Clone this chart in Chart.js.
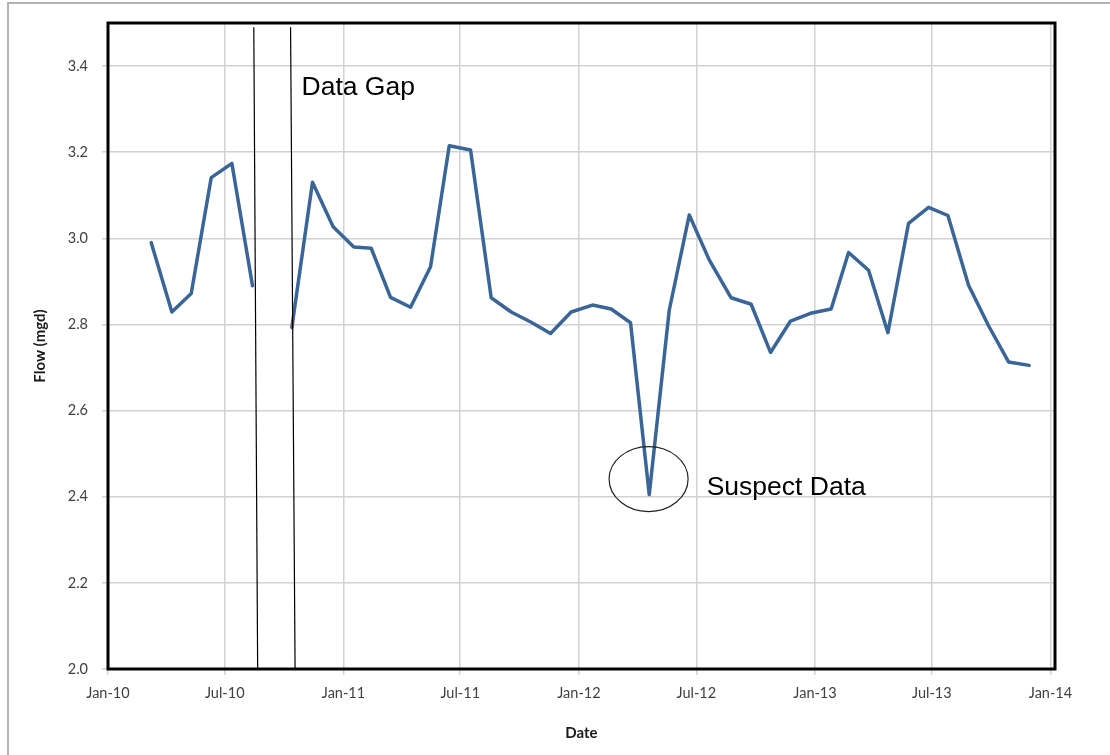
<!DOCTYPE html>
<html>
<head>
<meta charset="utf-8">
<script src="https://cdn.jsdelivr.net/npm/chart.js@4.4.1/dist/chart.umd.min.js"></script>
<style>
  html, body { margin: 0; padding: 0; background: #fff; }
  #wrap { width: 1110px; height: 755px; }
</style>
</head>
<body>
<div id="wrap"><canvas id="flowChart" width="1110" height="755"></canvas></div>
<script>
"use strict";

// monthly samples, null = missing month (data gap)
const sampleDates = [
  "2010-03-09", "2010-04-10", "2010-05-10", "2010-06-10", "2010-07-12", "2010-08-13",
  "2010-09-13", "2010-10-13", "2010-11-14", "2010-12-16",
  "2011-01-17", "2011-02-13", "2011-03-15", "2011-04-15", "2011-05-16", "2011-06-14",
  "2011-07-17", "2011-08-18", "2011-09-18", "2011-10-19", "2011-11-18", "2011-12-20",
  "2012-01-22", "2012-02-20", "2012-03-21", "2012-04-19", "2012-05-20", "2012-06-20",
  "2012-07-21", "2012-08-24", "2012-09-24", "2012-10-24", "2012-11-24", "2012-12-25",
  "2013-01-26", "2013-02-22", "2013-03-25", "2013-04-24", "2013-05-26", "2013-06-26",
  "2013-07-26", "2013-08-27", "2013-09-27", "2013-10-28", "2013-11-29"
];
const flowValues = [
  2.990, 2.829, 2.872, 3.141, 3.174, 2.890,
  null, 2.793, 3.130, 3.027,
  2.980, 2.977, 2.863, 2.840, 2.934, 3.215,
  3.205, 2.862, 2.829, 2.805, 2.779, 2.829,
  2.845, 2.836, 2.804, 2.405, 2.833, 3.054,
  2.950, 2.862, 2.847, 2.735, 2.808, 2.826,
  2.836, 2.967, 2.926, 2.781, 3.035, 3.072,
  3.053, 2.891, 2.797, 2.713, 2.705
];

const xTickDates = [
  "2010-01-01", "2010-07-01", "2011-01-01", "2011-07-01", "2012-01-01",
  "2012-07-01", "2013-01-01", "2013-07-01", "2014-01-01"
];
const xTickLabels = ["Jan-10", "Jul-10", "Jan-11", "Jul-11", "Jan-12", "Jul-12", "Jan-13", "Jul-13", "Jan-14"];
const xRange = ["2010-01-01", "2014-01-08"];
const yTickValues = [2.0, 2.2, 2.4, 2.6, 2.8, 3.0, 3.2, 3.4];
const yRange = [2.0, 3.5];

// annotations
const gapLineTopDates = ["2010-08-15", "2010-10-11"];
const gapLineBottomDates = ["2010-08-21", "2010-10-18"];
const gapLineTopFlow = 3.49;
const gapLabel = "Data Gap";
const gapLabelAt = ["2010-10-28", 3.333];
const suspectLabel = "Suspect Data";
const suspectLabelAt = ["2012-07-17", 2.405];
const suspectCircleAt = ["2012-04-18", 2.441];

const toTime = (s) => Date.parse(s + "T00:00:00Z");

const seriesPoints = sampleDates.map((d, i) => ({ x: toTime(d), y: flowValues[i] }));

const TICK_FONT = { family: "Lato, 'Open Sans', sans-serif", size: 14.5 };
const TITLE_FONT = { family: "Lato, 'Open Sans', sans-serif", size: 15, weight: "bold" };
const NOTE_FONT = "26.5px 'Liberation Sans', Arial, sans-serif";
const GRID_COLOR = "#d2d2d2";

const annotationPlugin = {
  id: "annotations",
  beforeDraw(chart) {
    const ctx = chart.ctx;
    ctx.save();
    ctx.strokeStyle = "#b4b4b4";
    ctx.lineWidth = 2;
    ctx.beginPath();
    ctx.moveTo(8, 760);
    ctx.lineTo(8, 3);
    ctx.lineTo(1115, 3);
    ctx.stroke();
    ctx.restore();
  },
  afterDatasetsDraw(chart) {
    const ctx = chart.ctx;
    const xs = chart.scales.x;
    const ys = chart.scales.y;
    ctx.save();

    // data gap markers
    ctx.strokeStyle = "#000";
    ctx.lineWidth = 1.2;
    for (let i = 0; i < gapLineTopDates.length; i++) {
      ctx.beginPath();
      ctx.moveTo(xs.getPixelForValue(toTime(gapLineTopDates[i])), ys.getPixelForValue(gapLineTopFlow));
      ctx.lineTo(xs.getPixelForValue(toTime(gapLineBottomDates[i])), ys.getPixelForValue(yRange[0]));
      ctx.stroke();
    }

    // suspect data circle
    ctx.lineWidth = 1.2;
    ctx.strokeStyle = "#222";
    ctx.beginPath();
    ctx.ellipse(
      xs.getPixelForValue(toTime(suspectCircleAt[0])),
      ys.getPixelForValue(suspectCircleAt[1]),
      39.5, 32.5, 0, 0, Math.PI * 2
    );
    ctx.stroke();

    ctx.fillStyle = "#000";
    ctx.font = NOTE_FONT;
    ctx.textAlign = "left";
    ctx.textBaseline = "alphabetic";
    ctx.fillText(gapLabel, xs.getPixelForValue(toTime(gapLabelAt[0])), ys.getPixelForValue(gapLabelAt[1]));
    ctx.fillText(suspectLabel, xs.getPixelForValue(toTime(suspectLabelAt[0])), ys.getPixelForValue(suspectLabelAt[1]));
    ctx.restore();
  },
  afterDraw(chart) {
    const { left, top, right, bottom } = chart.chartArea;
    const ctx = chart.ctx;
    ctx.save();
    ctx.strokeStyle = "#000";
    ctx.lineWidth = 3;
    ctx.strokeRect(left, top, right - left, bottom - top);
    ctx.restore();
  }
};

new Chart(document.getElementById("flowChart"), {
  type: "line",
  data: {
    datasets: [
      {
        label: "Flow",
        data: seriesPoints,
        borderColor: "#3a6597",
        borderWidth: 3.5,
        pointRadius: 0,
        tension: 0,
        spanGaps: false,
        borderJoinStyle: "round",
        borderCapStyle: "round"
      }
    ]
  },
  options: {
    responsive: false,
    animation: false,
    devicePixelRatio: 1,
    layout: { padding: { top: 23, right: 55, left: 0, bottom: 0 } },
    plugins: {
      legend: { display: false },
      tooltip: { enabled: false }
    },
    scales: {
      x: {
        type: "linear",
        min: toTime(xRange[0]),
        max: toTime(xRange[1]),
        afterBuildTicks: (scale) => {
          scale.ticks = xTickDates.map((d) => ({ value: toTime(d) }));
        },
        afterFit: (scale) => { scale.height = 86; },
        ticks: {
          autoSkip: false,
          maxRotation: 0,
          padding: 10,
          color: "#404040",
          font: TICK_FONT,
          callback: (v, i) => xTickLabels[i]
        },
        grid: { color: GRID_COLOR, lineWidth: 1.5, tickLength: 6 },
        border: { display: false },
        title: {
          display: true,
          text: "Date",
          color: "#1a1a1a",
          font: TITLE_FONT,
          padding: { top: 0, bottom: 13 }
        }
      },
      y: {
        min: yRange[0],
        max: yRange[1],
        afterBuildTicks: (scale) => {
          scale.ticks = yTickValues.map((v) => ({ value: v }));
        },
        afterFit: (scale) => { scale.width = 108; },
        ticks: {
          padding: 14,
          color: "#404040",
          font: TICK_FONT,
          callback: (v) => Number(v).toFixed(1)
        },
        grid: { color: GRID_COLOR, lineWidth: 1.5, tickLength: 6 },
        border: { display: false },
        title: {
          display: true,
          text: "Flow (mgd)",
          color: "#1a1a1a",
          font: TITLE_FONT,
          padding: { top: 31, bottom: 0 }
        }
      }
    }
  },
  plugins: [annotationPlugin]
});
</script>
</body>
</html>
